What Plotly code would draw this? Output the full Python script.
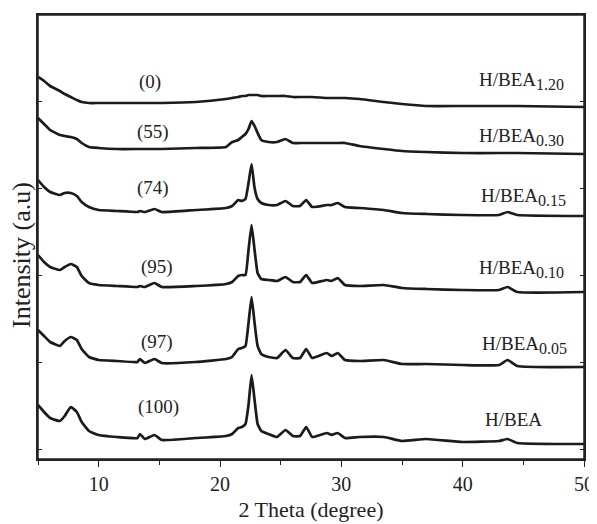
import plotly.graph_objects as go

# 2-theta grid (degrees)
two_theta = [5, 5.5, 6, 6.8, 7.2, 7.7, 8.2, 8.6, 9.2, 10,
             11.5, 13.2, 13.4, 13.8, 14.6, 15.2, 18, 20.5, 21.0, 21.5,
             21.8, 22.1, 22.35, 22.6, 22.85, 23.1, 23.4, 24, 24.7, 25.4,
             26.0, 26.6, 27.1, 27.6, 28.8, 29.2, 29.7, 30.3, 31.5, 33.5,
             35, 37, 40, 43, 43.7, 44.5, 50]

# Intensities (a.u., stacked as displayed)
hbea_120 = [382, 378, 373, 368, 365, 362, 359, 357, 356, 356,
            356, 356, 356, 356, 356, 356, 357, 360, 361, 362,
            363, 363, 364, 364, 364, 364, 363, 363, 363, 363,
            362, 362, 362, 362, 361, 361, 361, 361, 360, 357,
            355, 353, 353, 353, 353, 353, 352]
hbea_030 = [341, 335, 329, 324, 323, 322, 320, 316, 312, 311,
            310, 310, 310, 310, 310, 310, 311, 312, 317, 319,
            322, 325, 330, 338, 333, 326, 319, 317, 317, 320,
            316, 316, 316, 316, 316, 316, 316, 316, 313, 310,
            308, 307, 306, 306, 306, 306, 305]
hbea_015 = [279, 272, 267, 264, 266, 266, 263, 257, 252, 249,
            248, 247, 248, 247, 250, 247, 249, 251, 253, 259,
            258, 260, 276, 295, 271, 260, 256, 254, 254, 258,
            253, 253, 259, 252, 254, 254, 256, 252, 251, 249,
            246, 245, 244, 244, 247, 244, 243]
hbea_010 = [204, 197, 192, 189, 192, 195, 192, 183, 176, 174,
            173, 172, 173, 172, 176, 172, 173, 175, 177, 183,
            184, 184, 209, 234, 209, 186, 180, 179, 178, 182,
            177, 177, 184, 176, 179, 178, 181, 174, 173, 174,
            171, 170, 169, 169, 172, 167, 167]
hbea_005 = [129, 123, 117, 113, 118, 122, 119, 110, 102, 99,
            98, 97, 100, 96, 100, 96, 97, 100, 102, 110,
            111, 113, 136, 162, 136, 113, 105, 102, 101, 109,
            101, 101, 110, 101, 106, 103, 106, 99, 98, 99,
            95, 95, 94, 94, 99, 93, 92]
hbea = [54, 47, 41, 38, 43, 52, 47, 37, 28, 24,
        22, 21, 25, 20, 24, 19, 21, 23, 25, 31,
        32, 35, 54, 84, 59, 35, 28, 25, 22, 29,
        23, 23, 32, 22, 26, 24, 26, 21, 22, 22,
        18, 20, 17, 18, 20, 16, 15]

series = [hbea_120, hbea_030, hbea_015, hbea_010, hbea_005, hbea]
sample_base = "H/BEA"
sample_ratio = ["1.20", "0.30", "0.15", "0.10", "0.05", ""]
crystallinity = ["(0)", "(55)", "(74)", "(95)", "(97)", "(100)"]

# label anchor positions (layout only)
cryst_pos = [(14.2, 377), (14.5, 327), (14.5, 271), (14.8, 192), (14.8, 117), (14.9, 52)]
name_pos = [(41.2, 378), (41.2, 322), (41.35, 262), (41.2, 190), (41.4, 114), (41.7, 40)]

LINE = "#1c1a1a"
FONT = "Liberation Serif, Times New Roman, serif"


def label(ratio):
    if not ratio:
        return sample_base
    return f"{sample_base}<sub><span style='font-size:16px'>{ratio}</span></sub>"


fig = go.Figure()
for ys, r in zip(series, sample_ratio):
    fig.add_trace(go.Scatter(x=two_theta, y=ys, mode="lines", name=label(r),
                             line=dict(color=LINE, width=2.7, shape="spline", smoothing=0.4),
                             showlegend=False))

for txt, (x, y) in zip(crystallinity, cryst_pos):
    fig.add_annotation(x=x, y=y, text=txt, showarrow=False, xanchor="center", yanchor="middle",
                       font=dict(family=FONT, size=19, color="#222"))
for r, (x, y) in zip(sample_ratio, name_pos):
    fig.add_annotation(x=x, y=y, text=label(r), showarrow=False, xanchor="left", yanchor="middle",
                       font=dict(family=FONT, size=19, color="#222"))

# y-axis title (sits a little below the plot's vertical centre in the original)
fig.add_annotation(x=-0.029, y=0.46, xref="paper", yref="paper", text="Intensity (a.u)",
                   textangle=-90, showarrow=False, xanchor="center", yanchor="middle",
                   font=dict(family=FONT, size=26, color="#222"))

# plot frame (all four sides)
fig.add_shape(type="rect", xref="paper", yref="paper", x0=0, x1=1, y0=0, y1=1,
              line=dict(color="#222", width=1.5), layer="above")

# page body has an 8px margin: compensate so the plot box lands at 38..584 x 15..459
fig.update_layout(
    width=589, height=516,
    margin=dict(l=30, r=13, t=7, b=65),
    paper_bgcolor="white", plot_bgcolor="white",
    font=dict(family=FONT, color="#222"),
    xaxis=dict(range=[5, 50], tick0=0, dtick=10, ticks="outside", ticklen=6, tickwidth=1.2,
               tickcolor="#222", showline=True, linecolor="#222", linewidth=1.5,
               mirror=True, showgrid=False, zeroline=False, automargin=False,
               tickfont=dict(size=20, family=FONT),
               minor=dict(dtick=5, tick0=0, ticks="outside", ticklen=4, tickwidth=1.2, tickcolor="#222"),
               title=dict(text="2 Theta (degree)", font=dict(size=22, family=FONT), standoff=8)),
    yaxis=dict(range=[0, 444], tick0=10, dtick=87, ticks="inside", ticklen=4, tickwidth=1,
               tickcolor="#222", showticklabels=False, showline=True, linecolor="#222",
               linewidth=1.5, mirror="ticks", showgrid=False, zeroline=False, automargin=False),
)

fig.write_html("out.html")
